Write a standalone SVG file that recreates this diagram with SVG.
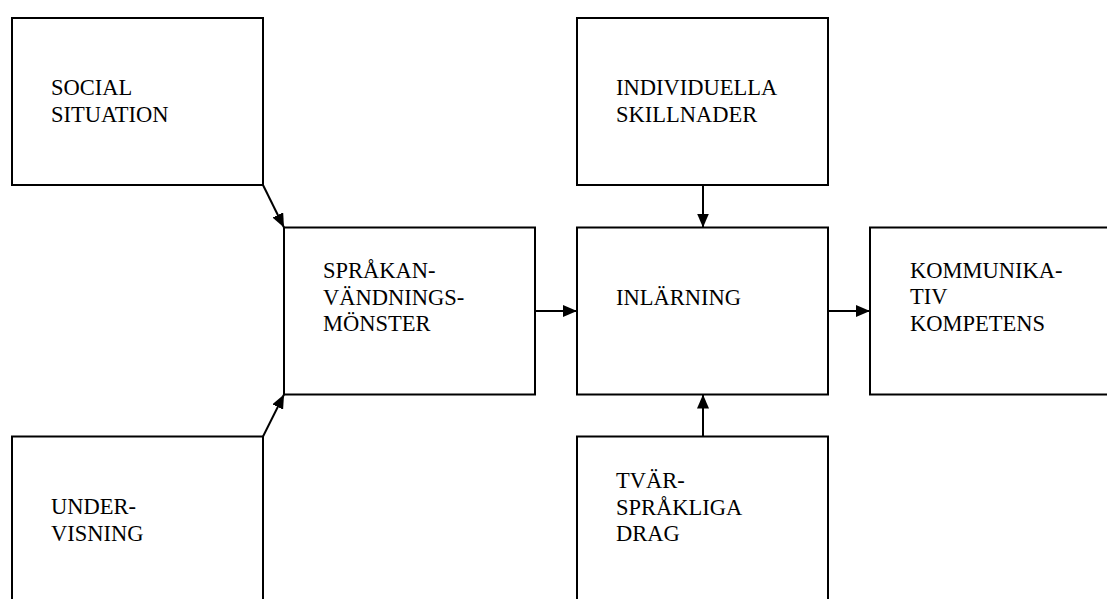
<svg xmlns="http://www.w3.org/2000/svg" width="1107" height="599" viewBox="0 0 1107 599">
  <style>
    .box { fill: #ffffff; stroke: #000000; stroke-width: 2; }
    .lbl { font-family: "Liberation Serif", "Times New Roman", serif; font-size: 22.5px; fill: #000000; }
    .edge { fill: none; stroke: #000000; stroke-width: 2; marker-end: url(#arrow); }
  </style>
  <defs>
    <marker id="arrow" markerUnits="userSpaceOnUse" markerWidth="15" markerHeight="12" refX="14" refY="6" orient="auto">
      <path d="M0,0 L14,6 L0,12 z" fill="#000000"/>
    </marker>
  </defs>
  <rect width="1107" height="599" fill="#ffffff"/>

  <g id="social-situation">
    <rect class="box" x="12" y="18" width="251" height="167"/>
    <text class="lbl" x="51" y="95">SOCIAL</text>
    <text class="lbl" x="51" y="122">SITUATION</text>
  </g>

  <g id="sprakanvandningsmonster">
    <rect class="box" x="284" y="227.5" width="251" height="167"/>
    <text class="lbl" x="323" y="278">SPRÅKAN-</text>
    <text class="lbl" x="323" y="304.5">VÄNDNINGS-</text>
    <text class="lbl" x="323" y="331">MÖNSTER</text>
  </g>

  <g id="undervisning">
    <rect class="box" x="12" y="436.5" width="251" height="200"/>
    <text class="lbl" x="51" y="514">UNDER-</text>
    <text class="lbl" x="51" y="540.5">VISNING</text>
  </g>

  <g id="individuella-skillnader">
    <rect class="box" x="577" y="18" width="251" height="167"/>
    <text class="lbl" x="616" y="95">INDIVIDUELLA</text>
    <text class="lbl" x="616" y="122">SKILLNADER</text>
  </g>

  <g id="inlarning">
    <rect class="box" x="577" y="227.5" width="251" height="167"/>
    <text class="lbl" x="616" y="305">INLÄRNING</text>
  </g>

  <g id="kommunikativ-kompetens">
    <rect class="box" x="870" y="227.5" width="300" height="167"/>
    <text class="lbl" x="910" y="278">KOMMUNIKA-</text>
    <text class="lbl" x="910" y="304">TIV</text>
    <text class="lbl" x="910" y="330.5">KOMPETENS</text>
  </g>

  <g id="tvarspraakliga-drag">
    <rect class="box" x="577" y="436.5" width="251" height="200"/>
    <text class="lbl" x="616" y="488">TVÄR-</text>
    <text class="lbl" x="616" y="514.5">SPRÅKLIGA</text>
    <text class="lbl" x="616" y="540.5">DRAG</text>
  </g>

  <g id="connectors">
    <line class="edge" x1="263" y1="185" x2="284" y2="227.5"/>
    <line class="edge" x1="263" y1="436.5" x2="284" y2="394.5"/>
    <line class="edge" x1="535" y1="311" x2="577" y2="311"/>
    <line class="edge" x1="703" y1="185" x2="703" y2="227.5"/>
    <line class="edge" x1="703" y1="436.5" x2="703" y2="394.5"/>
    <line class="edge" x1="828" y1="311" x2="870" y2="311"/>
  </g>
</svg>
